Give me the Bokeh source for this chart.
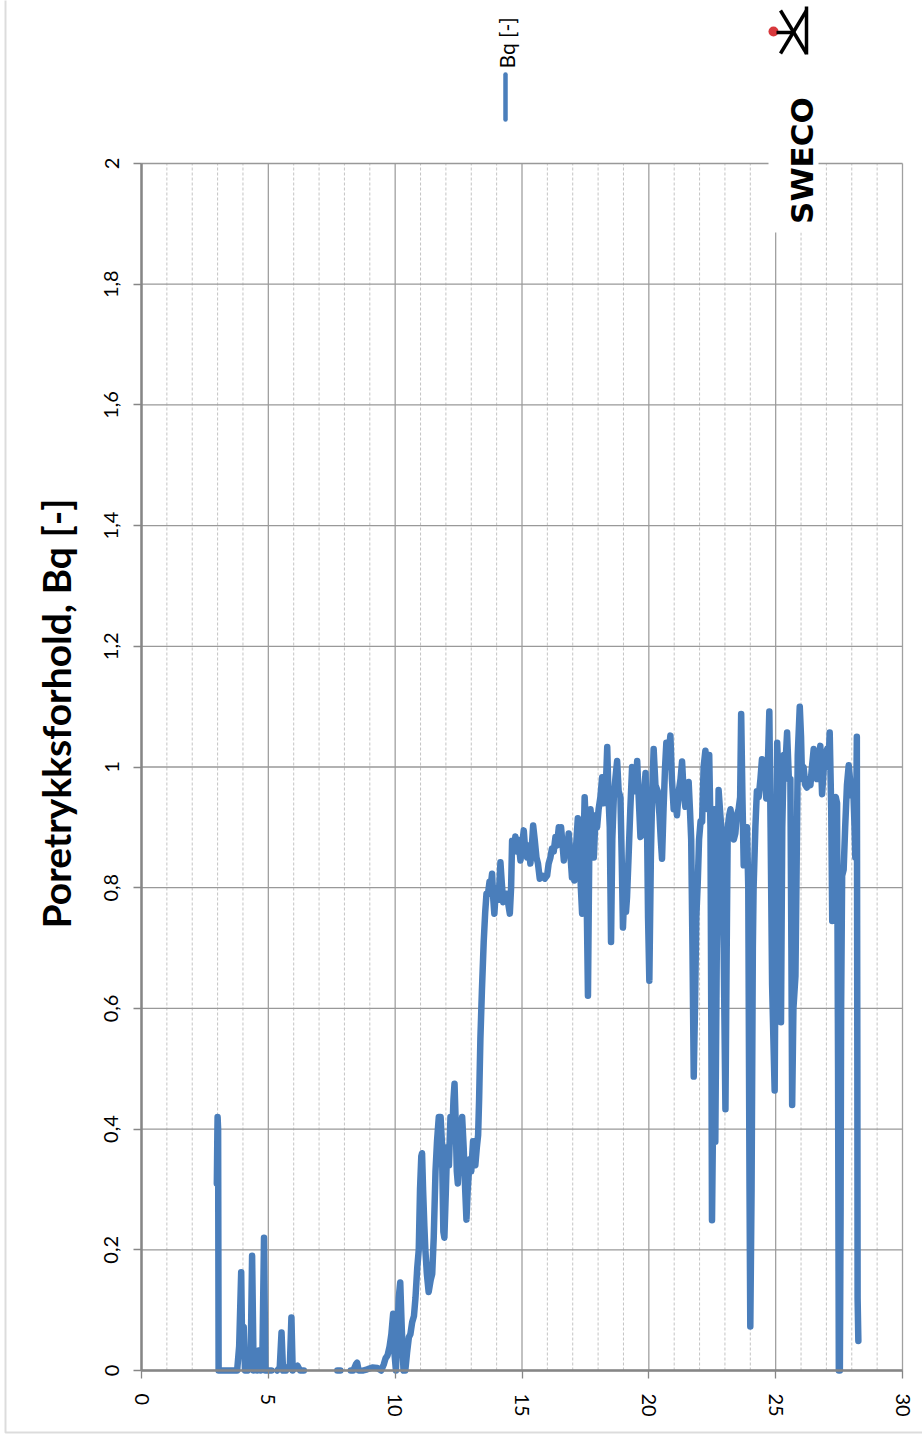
import math
from bokeh.plotting import figure
from bokeh.models import Range1d, FixedTicker, Label, BoxAnnotation
from bokeh.embed import file_html
from bokeh.resources import INLINE

NaN = float("nan")

# ---- data (depth [m] vs Bq [-]) ----
depth = [
    2.97, 2.99, 3.00, 3.02, 3.04, 3.30, 3.60, 3.77, 3.85, 3.93, 3.97, 4.03, 4.08, 4.14, 4.20, 4.30,
    4.36, 4.42, 4.50, 4.56, 4.62, 4.70, 4.76, 4.83, 4.88, 5.00, 5.12, NaN,
    5.35, 5.45, 5.52, 5.58, 5.70, 5.85, 5.91, 5.96, 6.05, 6.15, 6.25, 6.40, NaN,
    7.72, 7.84, NaN,
    8.25, 8.35, 8.45, 8.50, 8.56, 8.64, NaN,
    8.74, 8.90, 9.10, 9.30, 9.45, 9.55, 9.62, 9.70, 9.78, 9.85, 9.92, 9.97, 10.03, 10.08, 10.14,
    10.20, 10.26, 10.33, 10.40, 10.47, 10.54, 10.60, 10.67, 10.74, 10.80, 10.87, 10.93, 10.98, 11.03,
    11.06, 11.10, 11.15, 11.19, 11.25, 11.32, 11.40, 11.46, 11.52, 11.59, 11.65, 11.72, 11.79, 11.84,
    11.90, 11.94, 12.00, 12.05, 12.12, 12.18, 12.24, 12.30, 12.34, 12.38, 12.43, 12.47, 12.52, 12.58,
    12.64, 12.70, 12.76, 12.81, 12.86, 12.94, 13.00, 13.07, 13.12, 13.16, 13.22, 13.27, 13.31, 13.36,
    13.42, 13.49, 13.55, 13.60, 13.66, 13.72, 13.76, 13.82, 13.87, 13.91, 13.96, 14.02, 14.08, 14.15,
    14.20, 14.26, 14.33, 14.41, 14.47, 14.52, 14.57, 14.61, 14.67, 14.74, 14.79, 14.83, 14.88, 14.94,
    15.00, 15.07, 15.13, 15.20, 15.26, 15.33, 15.39, 15.44, 15.50, 15.57, 15.63, 15.70, 15.80, 15.90,
    15.99, 16.05, 16.12, 16.18, 16.25, 16.32, 16.38, 16.45, 16.50, 16.54, 16.60, 16.65, 16.72, 16.78,
    16.84, 16.90, 16.97, 17.02, 17.06, 17.12, 17.20, 17.26, 17.32, 17.37, 17.42, 17.47, 17.52, 17.56,
    17.60, 17.65, 17.70, 17.76, 17.83, 17.90, 17.96, 18.02, 18.09, 18.16, 18.22, 18.29, 18.36, 18.41,
    18.46, 18.51, 18.56, 18.62, 18.68, 18.75, 18.81, 18.88, 18.93, 18.98, 19.04, 19.10, 19.14, 19.20,
    19.27, 19.34, 19.41, 19.48, 19.54, 19.60, 19.67, 19.73, 19.80, 19.87, 19.93, 19.97, 20.02, 20.08,
    20.13, 20.19, 20.26, 20.35, 20.42, 20.47, 20.52, 20.58, 20.64, 20.69, 20.75, 20.80, 20.85, 20.91,
    20.98, 21.04, 21.11, 21.18, 21.25, 21.31, 21.37, 21.44, 21.50, 21.57, 21.62, 21.67, 21.72, 21.77,
    21.82, 21.87, 21.93, 21.98, 22.04, 22.10, 22.16, 22.23, 22.28, 22.33, 22.38, 22.43, 22.47, 22.49,
    22.54, 22.58, 22.60, 22.62, 22.68, 22.75, 22.82, 22.89, 22.95, 23.02, 23.07, 23.11, 23.17, 23.22,
    23.30, 23.35, 23.41, 23.47, 23.54, 23.60, 23.64, 23.69, 23.74, 23.80, 23.87, 23.92, 23.97, 24.00,
    24.05, 24.10, 24.13, 24.20, 24.26, 24.33, 24.40, 24.46, 24.52, 24.58, 24.63, 24.69, 24.75, 24.80,
    24.86, 24.91, 24.96, 25.01, 25.06, 25.11, 25.16, 25.21, 25.26, 25.32, 25.38, 25.45, 25.52, 25.58,
    25.62, 25.65, 25.70, 25.78, 25.83, 25.87, 25.95, 26.00, 26.04, 26.10, 26.17, 26.23, 26.30, 26.37,
    26.43, 26.50, 26.57, 26.63, 26.70, 26.76, 26.83, 26.90, 26.96, 27.03, 27.08, 27.13, 27.19, 27.23,
    27.28, 27.32, 27.37, 27.42, 27.46, 27.49, 27.53, 27.56, 27.58, 27.62, 27.68, 27.74, 27.81, 27.88,
    27.93, 27.97, 28.03, 28.07, 28.11, 28.14, 28.18, 28.20, 28.22, 28.23, 28.26,
]
bq = [
    0.31, 0.39, 0.42, 0.40, 0.00, 0.00, 0.00, 0.00, 0.04, 0.163, 0.03, 0.072, 0.00, 0.02, 0.00, 0.01,
    0.19, 0.00, 0.02, 0.00, 0.033, 0.00, 0.005, 0.22, 0.00, 0.00, 0.00, NaN,
    0.00, 0.005, 0.063, 0.00, 0.00, 0.01, 0.088, 0.00, 0.005, 0.008, 0.00, 0.00, NaN,
    0.00, 0.00, NaN,
    0.00, 0.00, 0.01, 0.013, 0.00, 0.00, NaN,
    0.00, 0.002, 0.005, 0.004, 0.00, 0.01, 0.02, 0.025, 0.04, 0.06, 0.094, 0.03, 0.00, 0.05, 0.12,
    0.146, 0.07, 0.00, 0.00, 0.03, 0.055, 0.06, 0.08, 0.09, 0.12, 0.17, 0.20, 0.30, 0.355,
    0.36, 0.30, 0.24, 0.20, 0.16, 0.13, 0.15, 0.16, 0.22, 0.33, 0.38, 0.42, 0.42, 0.38,
    0.23, 0.22, 0.30, 0.37, 0.34, 0.42, 0.38, 0.45, 0.475, 0.42, 0.33, 0.31, 0.36, 0.39,
    0.42, 0.37, 0.30, 0.25, 0.30, 0.35, 0.33, 0.38, 0.36, 0.34, 0.37, 0.39, 0.45, 0.55,
    0.63, 0.71, 0.76, 0.79, 0.79, 0.81, 0.80, 0.823, 0.78, 0.757, 0.79, 0.80, 0.78, 0.842,
    0.81, 0.776, 0.79, 0.79, 0.77, 0.757, 0.80, 0.878, 0.86, 0.885, 0.86, 0.88, 0.87, 0.845,
    0.87, 0.895, 0.86, 0.85, 0.87, 0.84, 0.87, 0.903, 0.88, 0.85, 0.84, 0.815, 0.82, 0.815,
    0.82, 0.84, 0.85, 0.865, 0.86, 0.884, 0.87, 0.90, 0.88, 0.90, 0.87, 0.845, 0.87, 0.86,
    0.89, 0.86, 0.817, 0.85, 0.812, 0.86, 0.915, 0.87, 0.80, 0.757, 0.86, 0.95, 0.90, 0.75,
    0.621, 0.85, 0.93, 0.90, 0.85, 0.92, 0.90, 0.93, 0.95, 0.983, 0.94, 0.95, 1.033, 0.95,
    0.90, 0.71, 0.88, 0.95, 0.98, 1.01, 0.96, 0.95, 0.85, 0.734, 0.80, 0.76, 0.784, 0.85,
    0.93, 1.00, 0.99, 0.96, 1.01, 0.95, 0.884, 0.887, 0.95, 0.99, 0.90, 0.75, 0.646, 0.85,
    0.95, 1.03, 0.97, 0.96, 0.92, 0.88, 0.848, 0.93, 1.00, 1.04, 1.00, 1.03, 1.052, 0.98,
    0.93, 0.95, 0.92, 0.96, 0.98, 1.009, 0.96, 0.934, 0.95, 0.975, 0.93, 0.88, 0.70, 0.487,
    0.60, 0.75, 0.81, 0.88, 0.91, 0.909, 1.00, 1.027, 0.96, 0.93, 1.02, 0.90, 0.50, 0.249,
    0.45, 0.93, 0.50, 0.379, 0.70, 0.962, 0.92, 0.88, 0.70, 0.433, 0.70, 0.90, 0.92, 0.93,
    0.90, 0.88, 0.89, 0.92, 0.93, 0.95, 1.088, 0.95, 0.837, 0.86, 0.90, 0.80, 0.30, 0.073,
    0.30, 0.70, 0.80, 0.90, 0.96, 0.95, 0.98, 1.013, 0.97, 0.99, 0.948, 1.00, 1.092, 0.90,
    0.639, 0.55, 0.464, 0.80, 1.04, 0.98, 1.00, 0.577, 0.90, 1.02, 1.00, 1.057, 0.98, 0.98,
    0.70, 0.44, 0.60, 0.654, 0.85, 1.02, 1.10, 1.05, 0.98, 1.00, 0.97, 0.966, 0.98, 0.97,
    1.00, 1.03, 1.00, 0.98, 1.01, 1.035, 0.955, 1.00, 1.02, 1.03, 1.00, 1.057, 0.93, 0.745,
    0.85, 0.948, 0.95, 0.94, 0.50, 0.00, 0.00, 0.27, 0.60, 0.82, 0.83, 0.90, 0.97, 1.003,
    0.98, 0.953, 0.97, 0.95, 0.90, 0.85, 0.95, 1.05, 0.50, 0.12, 0.049,
]

x_ticks = [0, 5, 10, 15, 20, 25, 30]
x_minor_ticks = list(range(0, 31))
y_ticks = [0.0, 0.2, 0.4, 0.6, 0.8, 1.0, 1.2, 1.4, 1.6, 1.8, 2.0]
y_tick_labels = ["0", "0,2", "0,4", "0,6", "0,8", "1", "1,2", "1,4", "1,6", "1,8", "2"]
series_name = "Bq [-]"
y_title = "Poretrykksforhold, Bq [-]"
logo_text = "SWECO"

LINE_BLUE = "#4A7EBB"
AXIS_GRAY = "#868686"
GRID_GRAY = "#a0a0a0"
MINOR_GRAY = "#c4c4c4"

# ---- layout: the frame covers the whole canvas; the plot area is 0..30 x 0..2 inside it ----
W, H = 922, 1439
PL, PT, PR, PB = 141, 163, 902, 1370          # plot-area edges in pixels
x0_, x1_ = x_ticks[0], x_ticks[-1]
y0_, y1_ = y_ticks[0], y_ticks[-1]
sx = (PR - PL) / (x1_ - x0_)
sy = (PB - PT) / (y1_ - y0_)
def dx(px): return x0_ + (px - PL) / sx
def dy(py): return y0_ + (PB - py) / sy

p = figure(width=W, height=H, output_backend="svg", toolbar_location=None,
           x_range=Range1d(dx(0), dx(W)), y_range=Range1d(dy(H), dy(0)),
           min_border_left=0, min_border_right=0, min_border_top=0, min_border_bottom=0,
           background_fill_color="white", border_fill_color="white")
p.outline_line_color = None
p.grid.visible = False

# grid lines confined to the plot area
minor = [m for m in x_minor_ticks if m not in x_ticks]
p.segment(x0=minor, x1=minor, y0=[y0_] * len(minor), y1=[y1_] * len(minor),
          line_color=MINOR_GRAY, line_width=1, line_dash="3 2")
p.segment(x0=x_ticks, x1=x_ticks, y0=[y0_] * len(x_ticks), y1=[y1_] * len(x_ticks),
          line_color=GRID_GRAY, line_width=1.3)
p.segment(x0=[x0_] * len(y_ticks), x1=[x1_] * len(y_ticks), y0=y_ticks, y1=y_ticks,
          line_color="#999999", line_width=1.3)

# axes placed at the plot-area edges
xt = FixedTicker(ticks=x_ticks, minor_ticks=[])
yt = FixedTicker(ticks=y_ticks, minor_ticks=[])
p.xaxis.ticker = xt
p.yaxis.ticker = yt
p.xaxis.fixed_location = y0_
p.yaxis.fixed_location = x0_
p.xaxis.bounds = (x0_, x1_)
p.yaxis.bounds = (y0_, y1_)
p.yaxis.major_label_overrides = {v: s for v, s in zip(y_ticks, y_tick_labels)}

for ax in (p.xaxis[0], p.yaxis[0]):
    ax.axis_line_color = AXIS_GRAY
    ax.axis_line_width = 2.5
    ax.major_tick_line_color = AXIS_GRAY
    ax.major_tick_line_width = 1.3
    ax.major_tick_in = 0
    ax.major_tick_out = 8
    ax.minor_tick_line_color = None
    ax.major_label_text_font = "Lato"
    ax.major_label_text_font_size = "20px"
    ax.major_label_text_color = "black"
    ax.major_label_orientation = "vertical"
p.yaxis.major_label_standoff = 15
p.xaxis.major_label_standoff = 15

# data line
p.line(depth, bq, line_width=6.5, color=LINE_BLUE, line_join="round", line_cap="round")

# outer chart border (left and bottom edges visible)
p.add_layout(BoxAnnotation(left=dx(5), right=dx(W + 20), bottom=dy(1432), top=dy(-20),
                           fill_color=None, line_color="#8c8c8c", line_width=2))

# axis title
p.add_layout(Label(x=dx(55), y=dy(713), text=y_title, angle=math.pi / 2,
                   text_align="center", text_baseline="middle",
                   text_font="Lato", text_font_style="bold", text_font_size="39px",
                   text_color="black"))

# legend (rotated like the reference)
p.add_layout(Label(x=dx(506), y=dy(68), text=series_name, angle=math.pi / 2,
                   text_align="left", text_baseline="middle",
                   text_font="Lato", text_font_size="21px", text_color="black"))
p.segment(x0=[dx(505)], x1=[dx(505)], y0=[dy(74)], y1=[dy(119)],
          line_color=LINE_BLUE, line_width=4.5, line_cap="round")

# logo
p.add_layout(BoxAnnotation(left=dx(768), right=dx(818), bottom=dy(232), top=dy(-5),
                           fill_color="white", fill_alpha=1.0, line_color=None))
p.add_layout(Label(x=dx(801), y=dy(160), text=logo_text, angle=math.pi / 2,
                   text_align="center", text_baseline="middle",
                   text_font="DejaVu Sans", text_font_style="bold", text_font_size="31px",
                   text_color="black"))
dot = p.scatter(x=[dx(773)], y=[dy(31)], size=10, marker="circle",
                fill_color="#d8383c", line_color=None)
dot.level = "overlay"
sym = [((780, 10), (806, 53)), ((780, 53), (806, 10)), ((776, 32), (793, 32)), ((806, 6), (806, 54))]
icon = p.segment(x0=[dx(a[0]) for a, b in sym], y0=[dy(a[1]) for a, b in sym],
                 x1=[dx(b[0]) for a, b in sym], y1=[dy(b[1]) for a, b in sym],
                 line_color="black", line_width=3.5)
icon.level = "overlay"

open("out.html", "w").write(file_html(p, INLINE))
